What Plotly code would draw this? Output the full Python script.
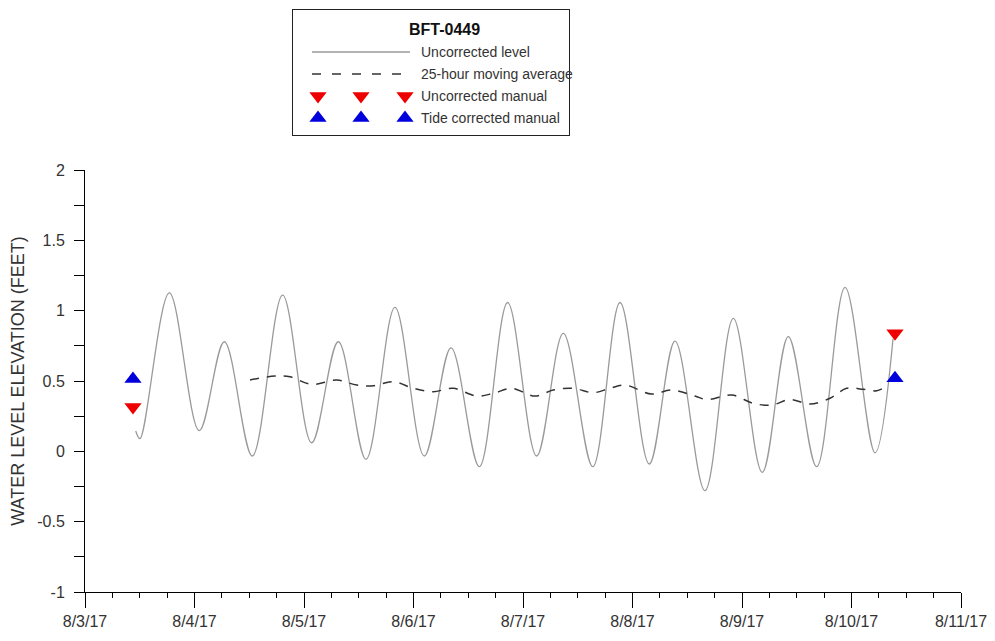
import plotly.graph_objects as go

# ---------------- data ----------------
tide_time = [
    "2017-08-03 11:07", "2017-08-03 12:03", "2017-08-03 18:29", "2017-08-04 01:03",
    "2017-08-04 06:32", "2017-08-04 12:40", "2017-08-04 19:19", "2017-08-05 01:41",
    "2017-08-05 07:31", "2017-08-05 13:35", "2017-08-05 19:56", "2017-08-06 02:22",
    "2017-08-06 08:13", "2017-08-06 14:25", "2017-08-06 20:38", "2017-08-07 03:00",
    "2017-08-07 08:50", "2017-08-07 15:17", "2017-08-07 21:16", "2017-08-08 03:41",
    "2017-08-08 09:19", "2017-08-08 15:53", "2017-08-08 22:06", "2017-08-09 04:27",
    "2017-08-09 10:09", "2017-08-09 16:22", "2017-08-09 22:35", "2017-08-10 05:10",
    "2017-08-10 09:06",
]
tide_level = [
    0.145, 0.09, 1.127, 0.147,
    0.779, -0.033, 1.111, 0.061,
    0.779, -0.057, 1.023, -0.033,
    0.736, -0.109, 1.058, -0.033,
    0.839, -0.109, 1.058, -0.09,
    0.784, -0.28, 0.945, -0.149,
    0.815, -0.109, 1.166, -0.01,
    0.80,
]

avg_time = [
    "2017-08-04 12:10", "2017-08-04 17:38", "2017-08-04 20:56", "2017-08-05 01:41",
    "2017-08-05 07:10", "2017-08-05 11:33", "2017-08-05 15:11", "2017-08-05 19:35",
    "2017-08-05 23:57", "2017-08-06 04:20", "2017-08-06 08:43", "2017-08-06 13:51",
    "2017-08-06 17:29", "2017-08-06 21:32", "2017-08-07 02:38", "2017-08-07 06:38",
    "2017-08-07 11:01", "2017-08-07 15:24", "2017-08-07 19:04", "2017-08-07 22:22",
    "2017-08-08 04:12", "2017-08-08 08:35", "2017-08-08 13:42", "2017-08-08 16:16",
    "2017-08-08 21:45", "2017-08-09 02:28", "2017-08-09 06:30", "2017-08-09 10:31",
    "2017-08-09 14:54", "2017-08-09 19:17", "2017-08-09 22:57", "2017-08-10 02:35",
    "2017-08-10 05:31", "2017-08-10 08:04",
]
avg_level = [
    0.507, 0.535, 0.53, 0.476,
    0.507, 0.471, 0.466, 0.495,
    0.448, 0.424, 0.448, 0.393,
    0.412, 0.448, 0.393, 0.436,
    0.448, 0.417, 0.448, 0.471,
    0.407, 0.436, 0.393, 0.368,
    0.40, 0.341, 0.329, 0.368,
    0.336, 0.377, 0.448, 0.441,
    0.431, 0.471,
]

manual_time = ["2017-08-03 10:31", "2017-08-10 09:32"]
uncorrected_manual = [0.315, 0.84]
tide_corrected_manual = [0.515, 0.52]

y_tickvals = [-1, -0.5, 0, 0.5, 1, 1.5, 2]
y_ticktext = ["-1", "-0.5", "0", "0.5", "1", "1.5", "2"]

legend_title = "BFT-0449"
legend_labels = ["Uncorrected level", "25-hour moving average",
                 "Uncorrected manual", "Tide corrected manual"]

# ---------------- styles ----------------
FONT = "Liberation Sans, Arial, sans-serif"
TXT = "#333333"
LINE_GRAY = "#9a9a9a"
DASH_COL = "#333333"
RED = "#ee0000"
BLUE = "#0000dd"

# page offset of the figure inside the browser window (default body margin)
OFF = 8
W, H = 995 - OFF, 641 - OFF
ML, MR, MT, MB = 85 - OFF, 34, 0, 49
plot_w = W - ML - MR
plot_h = H - MT - MB

def px_to_paper_x(px):
    return (px - OFF - ML) / plot_w

def px_to_paper_y(py):
    return (H - MB - (py - OFF)) / plot_h

fig = go.Figure()

fig.add_trace(go.Scatter(x=tide_time, y=tide_level, mode="lines",
                         line=dict(color=LINE_GRAY, width=1.3, shape="spline", smoothing=1.0),
                         showlegend=False, hoverinfo="skip"))
fig.add_trace(go.Scatter(x=avg_time, y=avg_level, mode="lines",
                         line=dict(color=DASH_COL, width=1.5, dash="9px,8px",
                                   shape="spline", smoothing=1.0),
                         showlegend=False, hoverinfo="skip"))
fig.add_trace(go.Scatter(x=manual_time, y=uncorrected_manual, mode="markers",
                         marker=dict(symbol="triangle-down", size=15, color=RED),
                         showlegend=False, hoverinfo="skip"))
fig.add_trace(go.Scatter(x=manual_time, y=tide_corrected_manual, mode="markers",
                         marker=dict(symbol="triangle-up", size=15, color=BLUE),
                         showlegend=False, hoverinfo="skip"))

# ---------------- custom legend box (own little axes, window-pixel units) ----------------
LX0, LX1, LY_TOP, LY_BOT = 293, 569, 10, 135
sample_x = [312, 410]
tri_x = [318, 361, 405]
row_y = [52, 74, 96, 118]

fig.add_trace(go.Scatter(x=sample_x, y=[row_y[0]] * 2, mode="lines", xaxis="x2", yaxis="y2",
                         line=dict(color=LINE_GRAY, width=1.3), showlegend=False, hoverinfo="skip"))
fig.add_trace(go.Scatter(x=[312, 404], y=[row_y[1]] * 2, mode="lines", xaxis="x2", yaxis="y2",
                         line=dict(color=DASH_COL, width=1.5, dash="9px,11px"),
                         showlegend=False, hoverinfo="skip"))
fig.add_trace(go.Scatter(x=tri_x, y=[row_y[2]] * 3, mode="markers", xaxis="x2", yaxis="y2",
                         marker=dict(symbol="triangle-down", size=15, color=RED),
                         showlegend=False, hoverinfo="skip"))
fig.add_trace(go.Scatter(x=tri_x, y=[row_y[3]] * 3, mode="markers", xaxis="x2", yaxis="y2",
                         marker=dict(symbol="triangle-up", size=15, color=BLUE),
                         showlegend=False, hoverinfo="skip"))

annotations = [dict(x=444, y=29, xref="x2", yref="y2", text="<b>%s</b>" % legend_title,
                    showarrow=False, font=dict(family=FONT, size=16, color="#111111"),
                    xanchor="center", yanchor="middle")]
for lbl, yy in zip(legend_labels, row_y):
    annotations.append(dict(x=419, y=yy, xref="x2", yref="y2", text=lbl, showarrow=False,
                            font=dict(family=FONT, size=14, color=TXT),
                            xanchor="left", yanchor="middle"))

main_top = px_to_paper_y(170)

fig.update_layout(
    width=W, height=H,
    margin=dict(l=ML, r=MR, t=MT, b=MB, autoexpand=False),
    paper_bgcolor="white", plot_bgcolor="white",
    font=dict(family=FONT, size=16, color=TXT),
    annotations=annotations,
    xaxis=dict(
        type="date", range=["2017-08-03", "2017-08-11"], domain=[0, 1],
        tick0="2017-08-03", dtick=86400000, tickformat="%-m/%-d/%y",
        ticks="outside", ticklen=15, tickcolor="black", tickwidth=1,
        showline=True, linecolor="black", linewidth=1,
        showgrid=False, zeroline=False,
        tickfont=dict(family=FONT, size=16, color=TXT),
        minor=dict(dtick=21600000, ticks="outside", ticklen=5, tickcolor="black", showgrid=False),
        anchor="y",
    ),
    yaxis=dict(
        range=[-1, 2], domain=[0, main_top],
        tickmode="array", tickvals=y_tickvals, ticktext=y_ticktext,
        ticks="outside", ticklen=10, tickcolor="black", tickwidth=1,
        showline=True, linecolor="black", linewidth=1,
        showgrid=False, zeroline=False,
        tickfont=dict(family=FONT, size=16, color=TXT),
        ticklabelstandoff=6,
        minor=dict(dtick=0.25, tick0=0, ticks="outside", ticklen=10, tickcolor="black", showgrid=False),
        title=dict(text="WATER LEVEL ELEVATION (FEET)", standoff=9,
                   font=dict(family=FONT, size=18, color=TXT)),
        anchor="x",
    ),
    xaxis2=dict(
        domain=[px_to_paper_x(LX0), px_to_paper_x(LX1)], range=[LX0, LX1],
        showline=True, mirror=True, linecolor="#222222", linewidth=1,
        showticklabels=False, ticks="", showgrid=False, zeroline=False,
        anchor="y2", fixedrange=True,
    ),
    yaxis2=dict(
        domain=[px_to_paper_y(LY_BOT), px_to_paper_y(LY_TOP)], range=[LY_BOT, LY_TOP],
        showline=True, mirror=True, linecolor="#222222", linewidth=1,
        showticklabels=False, ticks="", showgrid=False, zeroline=False,
        anchor="x2", fixedrange=True,
    ),
)

fig.write_html("out.html")
